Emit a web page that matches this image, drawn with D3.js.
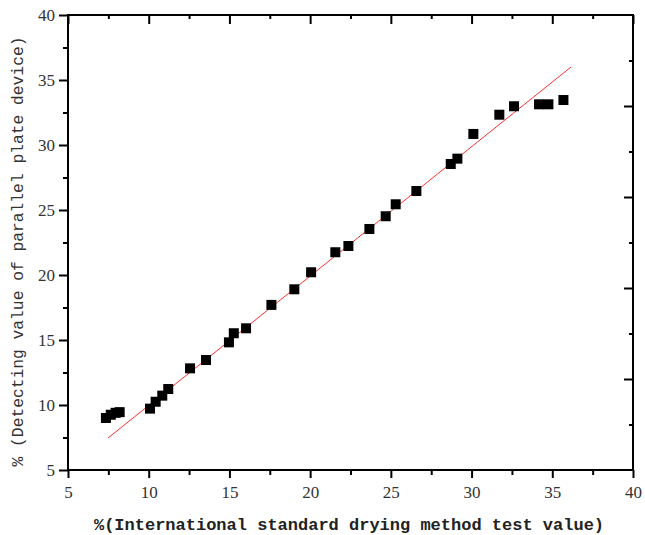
<!DOCTYPE html>
<html>
<head>
<meta charset="utf-8">
<script src="https://cdn.jsdelivr.net/npm/d3@7"></script>
<style>
  html, body { margin: 0; padding: 0; background: #fff; }
  svg { display: block; }
</style>
</head>
<body>
<svg id="chart" width="645" height="535"></svg>
<script>
// ---- data ----
const xValues = [7.35, 7.65, 7.95, 8.2, 10.08, 10.43, 10.84, 11.21, 12.56, 13.55, 14.97, 15.27, 16.03, 17.6, 19.02, 20.06, 21.56, 22.37, 23.67, 24.68, 25.3, 26.58, 28.71, 29.12, 30.11, 31.72, 32.63, 34.18, 34.76, 35.69];
const yValues = [9.0, 9.25, 9.4, 9.45, 9.72, 10.25, 10.72, 11.23, 12.82, 13.46, 14.82, 15.52, 15.9, 17.7, 18.9, 20.21, 21.75, 22.23, 23.54, 24.52, 25.44, 26.46, 28.54, 28.95, 30.85, 32.33, 32.98, 33.13, 33.13, 33.46];
const fitX = [7.48, 36.16];
const fitY = [7.46, 36.0];
const xTickValues = [5, 10, 15, 20, 25, 30, 35, 40];
const yTickValues = [5, 10, 15, 20, 25, 30, 35, 40];
const xMinorTicks = [7.5, 12.5, 17.5, 22.5, 27.5, 32.5, 37.5];
const yMinorTicks = [7.5, 12.5, 17.5, 22.5, 27.5, 32.5, 37.5];
const rightMajorTicks = [2, 4, 6, 8];
const rightMinorTicks = [1, 3, 5, 7, 9];
const xTitle = "%(International standard drying method test value)";
const yTitle = "% (Detecting value of parallel plate device)";

// ---- layout ----
const L = 68, R = 633, T = 15, B = 470;
const svg = d3.select("#chart");
const x = d3.scaleLinear().domain([5, 40]).range([L, R]);
const y = d3.scaleLinear().domain([5, 40]).range([B, T]);
const yRight = d3.scaleLinear().domain([0, 10]).range([B, T]);

const tickFont = "'Liberation Serif', serif";

function styleAxis(g) {
  g.select(".domain").remove();
  g.selectAll(".tick line").attr("stroke", "#000").attr("stroke-width", 2);
  g.selectAll(".tick text").attr("font-family", tickFont).attr("font-size", 17).attr("fill", "#333");
}

// bottom axis
const gB = svg.append("g").attr("transform", `translate(0,${B})`);
gB.call(d3.axisBottom(x).tickValues(xTickValues).tickSize(8).tickPadding(8).tickFormat(d3.format("d")));
styleAxis(gB);
const gBm = svg.append("g").attr("transform", `translate(0,${B})`);
gBm.call(d3.axisBottom(x).tickValues(xMinorTicks).tickSize(5).tickFormat(""));
styleAxis(gBm);

// left axis
const gL = svg.append("g").attr("transform", `translate(${L},0)`);
gL.call(d3.axisLeft(y).tickValues(yTickValues).tickSize(9).tickPadding(4).tickFormat(d3.format("d")));
styleAxis(gL);
const gLm = svg.append("g").attr("transform", `translate(${L},0)`);
gLm.call(d3.axisLeft(y).tickValues(yMinorTicks).tickSize(5).tickFormat(""));
styleAxis(gLm);

// top axis (inward ticks)
const gT = svg.append("g").attr("transform", `translate(0,${T})`);
gT.call(d3.axisBottom(x).tickValues(xTickValues).tickSize(9).tickFormat(""));
styleAxis(gT);
const gTm = svg.append("g").attr("transform", `translate(0,${T})`);
gTm.call(d3.axisBottom(x).tickValues(xMinorTicks).tickSize(4).tickFormat(""));
styleAxis(gTm);

// right axis (inward ticks)
const gR = svg.append("g").attr("transform", `translate(${R},0)`);
gR.call(d3.axisLeft(yRight).tickValues(rightMajorTicks).tickSize(9).tickFormat(""));
styleAxis(gR);
const gRm = svg.append("g").attr("transform", `translate(${R},0)`);
gRm.call(d3.axisLeft(yRight).tickValues(rightMinorTicks).tickSize(4).tickFormat(""));
styleAxis(gRm);

// frame
svg.append("rect")
  .attr("x", L).attr("y", T).attr("width", R - L).attr("height", B - T)
  .attr("fill", "none").attr("stroke", "#000").attr("stroke-width", 2);

// fit line
const fitData = fitX.map((v, i) => [v, fitY[i]]);
svg.append("path")
  .datum(fitData)
  .attr("d", d3.line().x(d => x(d[0])).y(d => y(d[1])))
  .attr("stroke", "#ff3030").attr("stroke-width", 1).attr("fill", "none");

// points
const pts = xValues.map((v, i) => ({ x: v, y: yValues[i] }));
const sq = 10;
svg.append("g").selectAll("rect").data(pts).join("rect")
  .attr("x", d => x(d.x) - sq / 2)
  .attr("y", d => y(d.y) - sq / 2)
  .attr("width", sq).attr("height", sq)
  .attr("fill", "#000");

// titles
svg.append("text")
  .attr("x", 349).attr("y", 530)
  .attr("text-anchor", "middle")
  .attr("font-family", "'Liberation Mono', monospace")
  .attr("font-weight", "bold")
  .attr("font-size", 17)
  .attr("fill", "#222")
  .text(xTitle);

svg.append("text")
  .attr("transform", `translate(23,${(T + B) / 2 + 9}) rotate(-90)`)
  .attr("text-anchor", "middle")
  .attr("font-family", "'Liberation Mono', monospace")
  .attr("font-size", 16.3)
  .attr("fill", "#333")
  .text(yTitle);
</script>
</body>
</html>
